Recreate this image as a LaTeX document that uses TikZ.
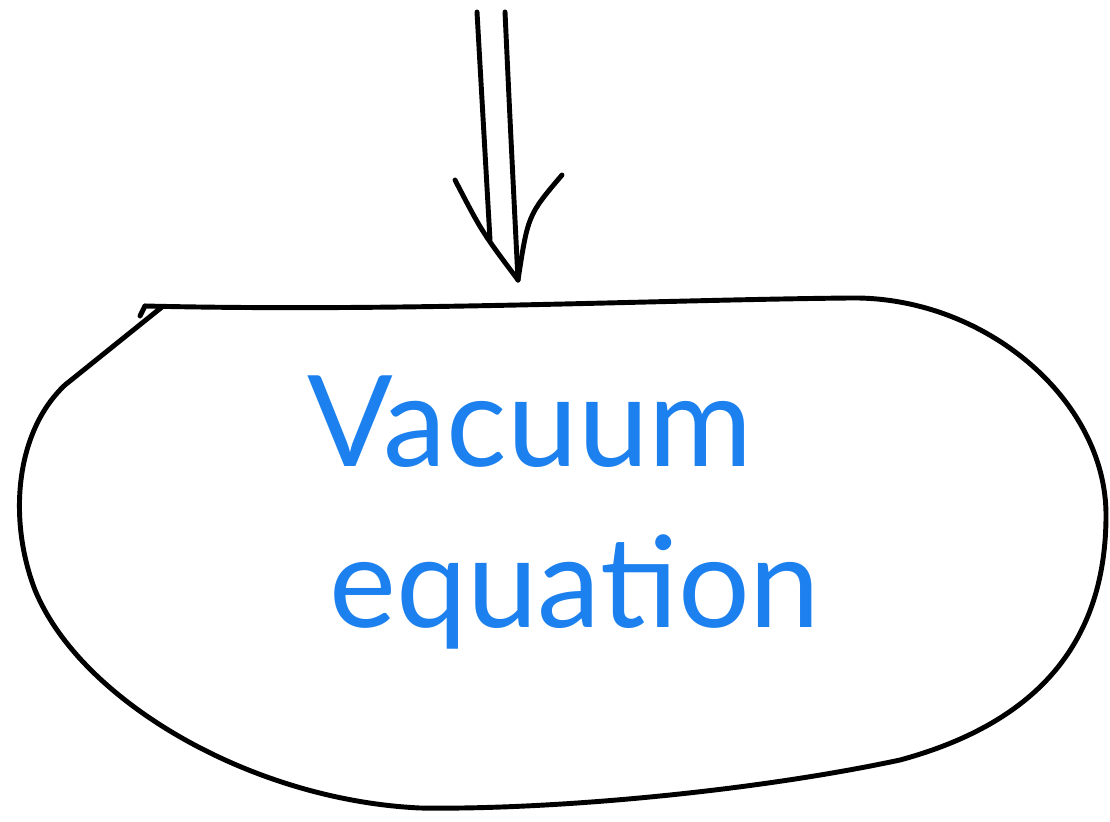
\documentclass[tikz,border=0pt]{standalone}
\usepackage{fontspec}
\setmainfont{Lato}
\definecolor{inkblue}{RGB}{28,128,238}
\tikzset{
    ink/.style={line width=1.4pt, line cap=round, line join=round},
    label/.style={text=inkblue, font=\fontsize{36}{42}\selectfont, inner sep=0pt}
}
\begin{document}
\begin{tikzpicture}[x=0.01cm,y=-0.01cm]
    \useasboundingbox (0,0) rectangle (1110,822);

    % the blob
    \draw[ink] (145,306) .. controls (400,312) and (650,300) .. (850,298)
        .. controls (985,296) and (1106,400) .. (1106,515)
        .. controls (1106,640) and (1040,722) .. (900,760)
        .. controls (750,792) and (550,810) .. (420,808)
        .. controls (250,800) and (80,700) .. (35,590)
        .. controls (8,520) and (15,432) .. (65,385)
        -- (162,307);
    \draw[ink] (140,316) -- (145,306);

    \node[label] (vac) at (530,422) {Vacuum};
    \node[label] (eq) at (575,592) {equation};

    % double arrow
    \coordinate (srcl) at (477,12);
    \coordinate (srcr) at (505,12);
    \coordinate (endl) at (490,240);
    \coordinate (tip) at (518,280);
    \draw[ink] (srcl) .. controls (482,100) .. (endl);
    \draw[ink] (srcr) .. controls (510,120) .. (tip);
    \draw[ink] (455,180) .. controls (482,232) .. (tip);
    \draw[ink] (562,175) .. controls (528,215) .. (tip);
\end{tikzpicture}
\end{document}
